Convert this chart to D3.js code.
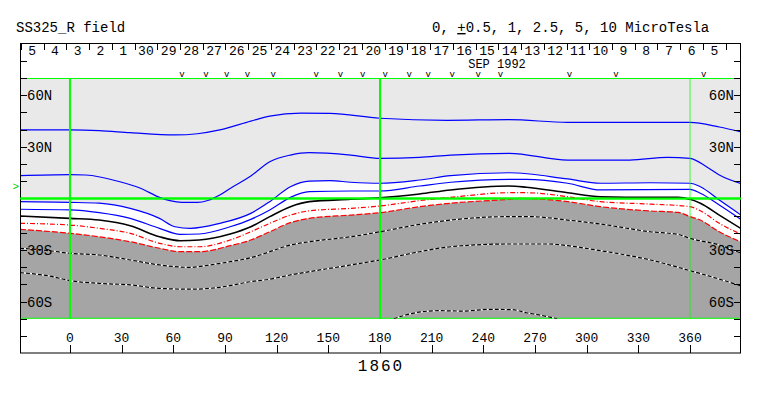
<!DOCTYPE html>
<html lang="en">
<head>
    <meta charset="UTF-8">
    <title>SS325_R field</title>
    <script src="https://d3js.org/d3.v7.min.js"></script>
    <style>
        body {
            margin: 0;
            background: #fff;
        }
        svg text {
            font-family: "Liberation Mono", "DejaVu Sans Mono", monospace;
        }
    </style>
</head>
<body>
<div id="my_dataviz"></div>
<script>
    // day labels along the top (Carrington rotation 1860, Oct 5 back to Sep 5)
    var dayLabels = ["5","4","3","2","1","30","29","28","27","26","25","24","23","22","21","20",
        "19","18","17","16","15","14","13","12","11","10","9","8","7","6","5"];
    var dayStartLon = -28.5, degPerDay = 13.2;

    // longitudes of the "v" observation marks
    var obsLon = [65, 79, 91, 103, 118, 143, 157, 170, 183, 197, 208, 222, 237, 250, 290, 317, 368];

    var lonTicks = [0, 30, 60, 90, 120, 150, 180, 210, 240, 270, 300, 330, 360];
    var latTicks = [-80, -70, -60, -50, -40, -30, -20, -10, 0, 10, 20, 30, 40, 50, 60, 70, 80];
    var latLabelValues = [60, 30, -30, -60];
    var latLabelText = ["60N", "30N", "30S", "60S"];

    // contours [lon, lat]
    var pos5 = [[-29,39.8],[0,39.8],[17,39.4],[35,38.2],[61,36.9],[74,37.6],[87,39.8],[105,44.9],[116,47.8],
        [134,49.6],[151,49.4],[180,46.6],[219,45.4],[255,45.8],[289,44.2],[360,44.2],[377,41.5],[390,38.6]];
    var pos25 = [[-29,13.2],[0,13.8],[9,13.6],[29,9.7],[41,5.9],[52,0.6],[58,-1.3],[65,-2.3],[74,-2.3],[80,-1.2],
        [87,2.0],[93,5.8],[105,13],[116,21.3],[128,25.2],[139,26.6],[163,25.2],[180,23.3],[203,23.9],[221,25.2],
        [255,26.2],[289,22.3],[325,22.3],[347,23.9],[360,23.3],[370,18.1],[377,13.6],[390,8.5]];
    var pos1 = [[-29,-1.9],[0,-2.3],[17,-2.8],[35,-5.8],[52,-11.6],[61,-16.5],[70,-17.4],[87,-14.5],[105,-8.7],
        [116,-1.9],[128,6.8],[139,10.1],[151,10.3],[163,9.4],[180,8.8],[203,10.7],[221,13.2],[255,14.9],
        [289,11.3],[308,8.8],[337,9.1],[360,8.8],[366,6.8],[377,-0.9],[390,-10]];
    var pos05 = [[-29,-6.3],[0,-6.7],[17,-8.3],[35,-11.6],[52,-17.4],[64,-20.9],[75,-20.7],[93,-16.5],[105,-12.2],
        [116,-6.7],[128,0.6],[139,3.9],[163,4.3],[180,4.3],[203,7.2],[221,9.4],[255,11.1],[265,11.1],
        [289,8.8],[308,4.9],[360,5.3],[366,3.0],[377,-3.8],[390,-12.5]];
    var zero = [[-29,-10.2],[0,-11.6],[17,-12.6],[35,-15.9],[52,-22.3],[64,-24.6],[75,-24.2],[93,-20.7],[105,-16.5],
        [116,-10.6],[128,-4.8],[139,-1.9],[163,-0.5],[180,0.4],[203,2.6],[221,4.9],[255,7.2],[265,6.5],
        [289,3.3],[308,1.0],[337,0.6],[353,0.6],[360,-0.5],[366,-2.8],[377,-9.7],[390,-17.8]];
    var neg05 = [[-29,-14.5],[0,-15.5],[17,-17.4],[35,-20.3],[52,-26.1],[64,-28.1],[75,-28.1],[93,-24.2],[105,-19.4],
        [116,-14.5],[128,-9.7],[139,-7.2],[163,-5.8],[180,-4.4],[203,-1.3],[221,0.6],[255,3.3],[265,3.3],
        [289,1.0],[308,-1.9],[337,-3.3],[360,-4.8],[366,-7.2],[377,-14.5],[390,-21]];
    var neg1 = [[-29,-18],[0,-20.3],[17,-22.3],[35,-25.2],[52,-29],[64,-31],[75,-31],[93,-27.5],[105,-24.2],
        [116,-19.4],[128,-14.1],[139,-11.6],[163,-9.7],[180,-8.3],[203,-4.8],[221,-2.8],[255,-0.5],[261,0],
        [289,-1.9],[308,-4.8],[337,-7.3],[353,-8.1],[360,-10.6],[366,-12.6],[377,-19.4],[390,-25.5]];
    var neg25 = [[-29,-29],[-12,-30.4],[0,-31.9],[17,-32.9],[35,-35.8],[52,-38.7],[70,-40.1],[81,-38.7],[93,-36.8],
        [105,-34.5],[116,-31],[128,-27.1],[139,-25.2],[163,-22.3],[180,-19.4],[203,-15.1],[221,-12.6],
        [255,-10.6],[267,-10.6],[289,-12.6],[308,-14.9],[337,-19.4],[353,-20.9],[360,-23.2],[377,-27.1],[390,-32]];
    var neg5 = [[-29,-43.2],[-12,-45.1],[0,-47.8],[17,-49.4],[35,-50.3],[52,-52.3],[70,-52.8],[87,-51.7],[105,-48.4],
        [116,-47],[128,-44.5],[139,-42.6],[163,-38.7],[180,-35.8],[203,-31],[221,-28.1],[255,-26.5],[278,-26.5],
        [289,-27.5],[308,-30.4],[337,-35.8],[360,-42],[377,-46.9],[390,-51]];
    var neg10 = [[188,-70],[199,-66.8],[214,-65.3],[228,-65.5],[244,-64.5],[257,-64.7],[265,-66.5],[271,-67.5],[283,-70]];

    var earthLat = 7.2;   // the little green ">" on the left

    var width = 763, height = 396;
    var svg = d3.select("#my_dataviz")
        .append("svg")
        .attr("width", width)
        .attr("height", height);

    // longitude / latitude scales (box spans -90..90 in latitude)
    var x = d3.scaleLinear().domain([-29, 389.6]).range([20, 741]);
    var y = d3.scaleLinear().domain([-90, 90]).range([353.2, 43.6]);

    var plotLeft = x(-29), plotRight = x(389.6);

    svg.append("clipPath").attr("id", "plotclip")
        .append("rect")
        .attr("x", plotLeft).attr("y", y(70))
        .attr("width", plotRight - plotLeft).attr("height", y(-70) - y(70));

    // positive background
    svg.append("rect")
        .attr("x", plotLeft).attr("y", y(70))
        .attr("width", plotRight - plotLeft).attr("height", y(-70) - y(70))
        .attr("fill", "#e9e9e9");

    var area = d3.area()
        .x(function(d) { return x(d[0]); })
        .y0(y(-70))
        .y1(function(d) { return y(d[1]); })
        .curve(d3.curveMonotoneX);

    var g = svg.append("g").attr("clip-path", "url(#plotclip)");

    // weak field band and negative region
    g.append("path").datum(pos1).attr("d", area).attr("fill", "#fff");
    g.append("path").datum(neg1).attr("d", area).attr("fill", "#a5a5a5");

    // green reference lines at the plot edges and equator
    g.selectAll("line.hgreen")
        .data([70, -70, 0])
        .enter()
        .append("line")
        .attr("x1", plotLeft).attr("x2", plotRight)
        .attr("y1", function(d) { return y(d); })
        .attr("y2", function(d) { return y(d); })
        .attr("stroke", "#00ff00")
        .attr("stroke-width", 2);

    var line = d3.line()
        .x(function(d) { return x(d[0]); })
        .y(function(d) { return y(d[1]); })
        .curve(d3.curveMonotoneX);

    // contours
    var contours = [
        {d: pos5, color: "#0000ff", w: 1.2, dash: null},
        {d: pos25, color: "#0000ff", w: 1.2, dash: null},
        {d: pos1, color: "#0000ff", w: 1.2, dash: null},
        {d: pos05, color: "#0000ff", w: 1.2, dash: null},
        {d: zero, color: "#000000", w: 1.6, dash: null},
        {d: neg05, color: "#ff0000", w: 1.2, dash: "5,2,1,2"},
        {d: neg1, color: "#ff0000", w: 1.2, dash: "6,2"}
    ];
    g.selectAll("path.contour")
        .data(contours)
        .enter()
        .append("path")
        .attr("class", "contour")
        .attr("d", function(c) { return line(c.d); })
        .attr("fill", "none")
        .attr("stroke", function(c) { return c.color; })
        .attr("stroke-width", function(c) { return c.w; })
        .attr("stroke-dasharray", function(c) { return c.dash; });

    // strong negative contours: black/white dashes
    [neg25, neg5, neg10].forEach(function(d) {
        g.append("path").datum(d).attr("d", line)
            .attr("fill", "none").attr("stroke", "#fff").attr("stroke-width", 1.2);
        g.append("path").datum(d).attr("d", line)
            .attr("fill", "none").attr("stroke", "#000").attr("stroke-width", 1.2)
            .attr("stroke-dasharray", "4,2");
    });

    // vertical green lines at 0, 180, 360
    svg.selectAll("line.vgreen")
        .data([0, 180, 360])
        .enter()
        .append("line")
        .attr("x1", function(d) { return x(d); })
        .attr("x2", function(d) { return x(d); })
        .attr("y1", y(70)).attr("y2", y(-70))
        .attr("stroke", "#00ff00")
        .attr("stroke-opacity", function(d) { return d == 360 ? 0.75 : 1; })
        .attr("stroke-width", function(d) { return d == 360 ? 1 : 2; });

    // frame
    svg.append("rect")
        .attr("x", 20.5).attr("y", 43.5)
        .attr("width", 720).attr("height", 309.5)
        .attr("fill", "none")
        .attr("stroke", "#000");

    // latitude ticks on both sides
    svg.selectAll("line.latl")
        .data(latTicks)
        .enter()
        .append("line")
        .attr("x1", 20).attr("x2", 27)
        .attr("y1", function(d) { return Math.round(y(d)) + 0.5; })
        .attr("y2", function(d) { return Math.round(y(d)) + 0.5; })
        .attr("stroke", "#000");
    svg.selectAll("line.latr")
        .data(latTicks)
        .enter()
        .append("line")
        .attr("x1", 734).attr("x2", 741)
        .attr("y1", function(d) { return Math.round(y(d)) + 0.5; })
        .attr("y2", function(d) { return Math.round(y(d)) + 0.5; })
        .attr("stroke", "#000");

    // latitude labels
    latLabelValues.forEach(function(v, i) {
        svg.append("text").attr("x", 27).attr("y", y(v) + 5)
            .style("font-size", "14px").text(latLabelText[i]);
        svg.append("text").attr("x", 734).attr("y", y(v) + 5)
            .attr("text-anchor", "end")
            .style("font-size", "14px").text(latLabelText[i]);
    });

    // equator redrawn over the side ticks
    svg.append("line")
        .attr("x1", 20).attr("x2", 741)
        .attr("y1", y(0)).attr("y2", y(0))
        .attr("stroke", "#00ff00").attr("stroke-width", 2);

    // Earth latitude marker
    svg.append("text")
        .attr("x", 19).attr("y", y(earthLat) + 4)
        .attr("text-anchor", "end")
        .attr("fill", "#00cc00")
        .style("font-size", "11px")
        .text(">");

    // longitude axis at the bottom
    svg.selectAll("line.lontick")
        .data(lonTicks)
        .enter()
        .append("line")
        .attr("x1", function(d) { return Math.round(x(d)) + 0.5; })
        .attr("x2", function(d) { return Math.round(x(d)) + 0.5; })
        .attr("y1", 345).attr("y2", 353)
        .attr("stroke", "#000");
    svg.selectAll("text.lonlab")
        .data(lonTicks)
        .enter()
        .append("text")
        .attr("x", function(d) { return x(d); })
        .attr("y", 342)
        .attr("text-anchor", "middle")
        .style("font-size", "13px")
        .text(function(d) { return d; });

    // day ticks and labels along the top
    var dayTicks = d3.range(dayLabels.length + 1);
    svg.selectAll("line.daytick")
        .data(dayTicks)
        .enter()
        .append("line")
        .attr("x1", function(k) { return Math.round(x(dayStartLon + k * degPerDay)) + 0.5; })
        .attr("x2", function(k) { return Math.round(x(dayStartLon + k * degPerDay)) + 0.5; })
        .attr("y1", 44).attr("y2", 50)
        .attr("stroke", "#000");
    svg.selectAll("text.day")
        .data(dayLabels)
        .enter()
        .append("text")
        .attr("x", function(d, i) { return x(dayStartLon + (i + 0.5) * degPerDay); })
        .attr("y", 55)
        .attr("text-anchor", "middle")
        .style("font-size", "13px")
        .text(function(d) { return d; });

    svg.append("text")
        .attr("x", 497).attr("y", 67.5)
        .attr("text-anchor", "middle")
        .style("font-size", "12px")
        .text("SEP 1992");

    // observation marks
    svg.selectAll("text.obs")
        .data(obsLon)
        .enter()
        .append("text")
        .attr("x", function(d) { return x(d); })
        .attr("y", 76.5)
        .attr("text-anchor", "middle")
        .style("font-size", "9px")
        .text("v");

    // titles
    svg.append("text")
        .attr("x", 16).attr("y", 32)
        .style("font-size", "14px")
        .text("SS325_R field");

    var levels = svg.append("text")
        .attr("x", 432).attr("y", 32)
        .style("font-size", "14px");
    levels.append("tspan").text("0, ");
    levels.append("tspan").attr("text-decoration", "underline").text("+");
    levels.append("tspan").text("0.5, 1, 2.5, 5, 10 MicroTesla");

    svg.append("text")
        .attr("x", 381).attr("y", 371)
        .attr("text-anchor", "middle")
        .style("font-size", "16px")
        .style("letter-spacing", "2px")
        .text("1860");
</script>
</body>
</html>
